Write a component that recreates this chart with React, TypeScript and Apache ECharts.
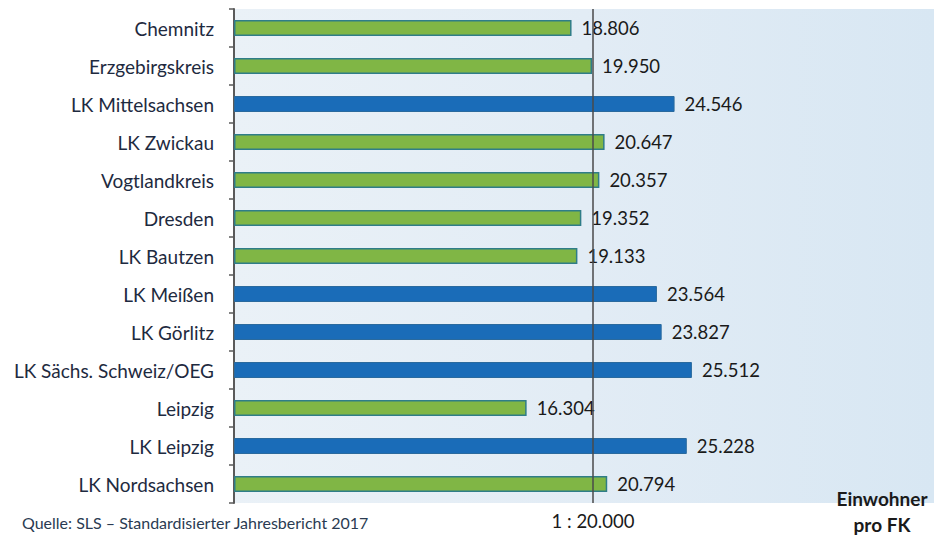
import React, { useEffect, useRef } from "react";
import * as echarts from "echarts";

const categories = [
  "Chemnitz",
  "Erzgebirgskreis",
  "LK Mittelsachsen",
  "LK Zwickau",
  "Vogtlandkreis",
  "Dresden",
  "LK Bautzen",
  "LK Meißen",
  "LK Görlitz",
  "LK Sächs. Schweiz/OEG",
  "Leipzig",
  "LK Leipzig",
  "LK Nordsachsen",
];
const values = [18806, 19950, 24546, 20647, 20357, 19352, 19133, 23564, 23827, 25512, 16304, 25228, 20794];
const highlighted = [false, false, true, false, false, false, false, true, true, true, false, true, false];
const referenceValue = 20000;
const referenceLabel = "1 : 20.000";
const sourceText = "Quelle: SLS – Standardisierter Jahresbericht 2017";
const unitText = "Einwohner\npro FK";

const FONT = "Lato, 'Open Sans', sans-serif";

const fmt = (v: number) => {
  const s = String(Math.round(v));
  return s.replace(/\B(?=(\d{3})+(?!\d))/g, ".");
};

export default function App() {
  const ref = useRef<HTMLDivElement>(null);
  useEffect(() => {
    if (!ref.current) return;
    const chart = echarts.init(ref.current, undefined, { renderer: "svg" });
    const data = values.map((v, i) => ({
      value: v,
      itemStyle: highlighted[i]
        ? { color: "#1a6cb8", borderColor: "#2a6a9e", borderWidth: 1 }
        : { color: "#80b645", borderColor: "#2f7d88", borderWidth: 1.5 },
    }));
    chart.setOption({
      animation: false,
      backgroundColor: "#ffffff",
      grid: {
        left: 234,
        right: 8,
        top: 9,
        bottom: 33,
        show: true,
        borderWidth: 0,
        backgroundColor: {
          type: "linear",
          x: 0,
          y: 0,
          x2: 1,
          y2: 0,
          colorStops: [
            { offset: 0, color: "#eaf1f7" },
            { offset: 0.5, color: "#e2ecf5" },
            { offset: 1, color: "#d8e7f3" },
          ],
        },
      },
      xAxis: {
        type: "value",
        min: 0,
        max: 39000,
        show: false,
      },
      yAxis: {
        type: "category",
        data: categories,
        inverse: true,
        axisLine: { show: true, lineStyle: { color: "#5a5a5a", width: 2 } },
        axisTick: { show: true, length: 5, lineStyle: { color: "#5a5a5a", width: 1.5 } },
        axisLabel: {
          margin: 20,
          fontSize: 19,
          fontFamily: FONT,
          color: "#1e2a40",
        },
      },
      series: [
        {
          type: "bar",
          data,
          barWidth: 16,
          label: {
            show: true,
            position: "right",
            distance: 10,
            fontSize: 18.5,
            fontFamily: FONT,
            color: "#1a1a1a",
            formatter: (p: any) => fmt(p.value),
          },
          markLine: {
            silent: true,
            symbol: "none",
            lineStyle: { color: "#4a4a4a", width: 1.5, type: "solid" },
            label: {
              show: true,
              position: "end",
              distance: 8,
              formatter: referenceLabel,
              fontSize: 18.5,
              fontFamily: FONT,
              color: "#1a1a1a",
            },
            data: [{ xAxis: referenceValue }],
          },
        },
      ],
      graphic: [
        {
          type: "text",
          left: 22,
          top: 514,
          style: { text: sourceText, fontSize: 16, fontFamily: FONT, fill: "#2a3b52" },
        },
        {
          type: "text",
          x: 882,
          y: 485,
          style: {
            text: unitText,
            fontSize: 19,
            fontWeight: "bold",
            fontFamily: FONT,
            fill: "#1a1a1a",
            align: "center",
            verticalAlign: "top",
            lineHeight: 26,
          },
        },
      ],
    });
    return () => chart.dispose();
  }, []);
  return (
    <div
      ref={ref}
      style={{ position: "fixed", left: 0, top: 0, width: 942, height: 536 }}
    />
  );
}
